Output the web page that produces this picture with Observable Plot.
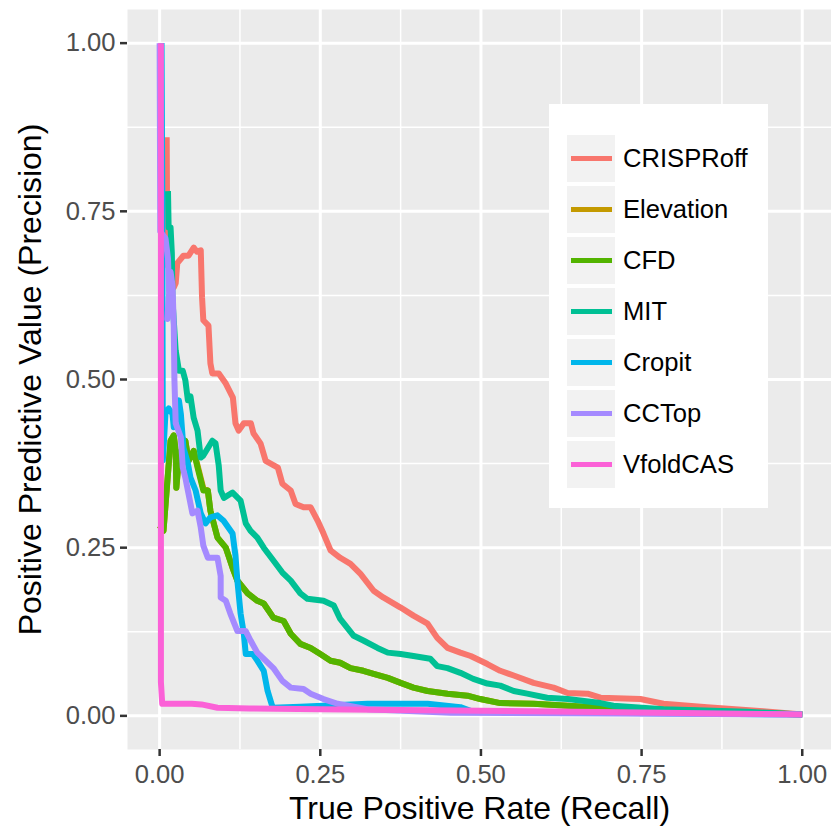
<!DOCTYPE html>
<html>
<head>
<meta charset="utf-8">
<script src="https://cdn.jsdelivr.net/npm/d3@7"></script>
<script src="https://cdn.jsdelivr.net/npm/@observablehq/plot@0.6"></script>
<style>
  html, body { margin: 0; padding: 0; background: white; }
  #wrap { position: relative; width: 831px; height: 828px; font-family: "Liberation Sans", Arial, sans-serif; }
  #legend { position: absolute; left: 549px; top: 104px; width: 219px; height: 404px; background: white; }
  .key { position: absolute; left: 18px; width: 48px; height: 47px; background: #F2F2F2; }
  .key span { position: absolute; left: 4px; width: 41px; height: 5.5px; top: 20.75px; }
  .lab { position: absolute; left: 74px; font-size: 25.6px; line-height: 47px; height: 47px; color: black; white-space: nowrap; }
</style>
</head>
<body>
<div id="wrap"></div>
<script>
// ---- data ----
const methods = ["CRISPRoff", "Elevation", "CFD", "MIT", "Cropit", "CCTop", "VfoldCAS"];
const methodColors = ["#F8766D", "#C49A00", "#53B400", "#00C094", "#00B6EB", "#A58AFF", "#FB61D7"];

const xTicks = [0, 0.25, 0.5, 0.75, 1];
const yTicks = [0, 0.25, 0.5, 0.75, 1];
const xMinor = [0.125, 0.375, 0.625, 0.875];
const yMinor = [0.125, 0.375, 0.625, 0.875];
const xTitle = "True Positive Rate (Recall)";
const yTitle = "Positive Predictive Value (Precision)";

// [recall, precision]
const crisproff = [[0.011,0.86],[0.012,0.67],[0.022,0.67],[0.022,0.637],[0.025,0.643],[0.0275,0.673],[0.037,0.684],[0.045,0.684],[0.053,0.696],[0.058,0.69],[0.064,0.692],[0.066,0.622],[0.068,0.588],[0.076,0.58],[0.079,0.524],[0.082,0.509],[0.092,0.509],[0.103,0.494],[0.114,0.473],[0.118,0.435],[0.123,0.424],[0.131,0.435],[0.142,0.435],[0.146,0.42],[0.157,0.405],[0.165,0.379],[0.184,0.369],[0.191,0.345],[0.204,0.335],[0.2115,0.315],[0.224,0.31],[0.235,0.31],[0.246,0.29],[0.255,0.271],[0.266,0.246],[0.281,0.235],[0.297,0.226],[0.3126,0.211],[0.333,0.186],[0.348,0.176],[0.375,0.161],[0.395,0.149],[0.417,0.137],[0.432,0.116],[0.448,0.101],[0.468,0.094],[0.484,0.089],[0.51,0.077],[0.53,0.067],[0.551,0.06],[0.582,0.049],[0.613,0.042],[0.635,0.034],[0.666,0.033],[0.686,0.027],[0.748,0.025],[0.784,0.018],[0.852,0.013],[0.939,0.007],[1.0,0.002]];
const elevation = [[0.0,0.283],[0.006,0.275],[0.017,0.409],[0.022,0.417],[0.025,0.394],[0.026,0.339],[0.030,0.384],[0.040,0.409],[0.045,0.379],[0.053,0.394],[0.059,0.372],[0.068,0.338],[0.075,0.335],[0.079,0.305],[0.090,0.265],[0.103,0.25],[0.1135,0.22],[0.121,0.201],[0.137,0.182],[0.152,0.171],[0.162,0.167],[0.177,0.146],[0.193,0.141],[0.204,0.122],[0.219,0.107],[0.235,0.101],[0.25,0.092],[0.266,0.082],[0.281,0.079],[0.297,0.071],[0.317,0.067],[0.333,0.0625],[0.355,0.0565],[0.375,0.049],[0.395,0.042],[0.417,0.037],[0.448,0.033],[0.479,0.03],[0.499,0.025],[0.53,0.019],[0.582,0.018],[0.635,0.015],[0.686,0.012],[0.784,0.009],[1.0,0.002]];
const cfd = [[0.0,0.283],[0.006,0.275],[0.017,0.409],[0.022,0.417],[0.025,0.394],[0.026,0.339],[0.030,0.384],[0.040,0.409],[0.045,0.379],[0.053,0.394],[0.059,0.369],[0.068,0.335],[0.075,0.335],[0.079,0.305],[0.090,0.265],[0.103,0.25],[0.1135,0.22],[0.121,0.201],[0.137,0.182],[0.152,0.171],[0.162,0.167],[0.177,0.146],[0.193,0.141],[0.204,0.122],[0.219,0.107],[0.235,0.101],[0.25,0.092],[0.266,0.082],[0.281,0.079],[0.297,0.071],[0.317,0.067],[0.333,0.0625],[0.355,0.0565],[0.375,0.049],[0.395,0.042],[0.417,0.037],[0.448,0.033],[0.479,0.03],[0.499,0.025],[0.53,0.019],[0.582,0.018],[0.635,0.015],[0.686,0.012],[0.784,0.009],[1.0,0.002]];
const mit = [[0.013,0.78],[0.014,0.726],[0.017,0.726],[0.019,0.688],[0.020,0.618],[0.025,0.543],[0.030,0.513],[0.036,0.513],[0.040,0.499],[0.044,0.469],[0.048,0.475],[0.053,0.443],[0.059,0.424],[0.064,0.384],[0.068,0.387],[0.082,0.409],[0.087,0.405],[0.092,0.372],[0.095,0.335],[0.100,0.324],[0.1135,0.332],[0.126,0.32],[0.134,0.286],[0.1415,0.275],[0.152,0.265],[0.162,0.25],[0.177,0.231],[0.191,0.213],[0.204,0.201],[0.219,0.182],[0.230,0.174],[0.255,0.171],[0.271,0.164],[0.281,0.144],[0.302,0.119],[0.317,0.112],[0.339,0.101],[0.355,0.094],[0.375,0.092],[0.395,0.089],[0.421,0.085],[0.432,0.074],[0.448,0.071],[0.468,0.064],[0.488,0.055],[0.51,0.048],[0.53,0.045],[0.551,0.037],[0.572,0.033],[0.603,0.027],[0.635,0.025],[0.686,0.019],[0.706,0.015],[0.784,0.010],[0.914,0.006],[1.0,0.002]];
const cropit = [[0.003,1.0],[0.004,0.80],[0.005,0.38],[0.008,0.43],[0.009,0.449],[0.014,0.457],[0.020,0.449],[0.022,0.429],[0.025,0.439],[0.030,0.469],[0.033,0.449],[0.037,0.399],[0.044,0.375],[0.048,0.354],[0.056,0.335],[0.064,0.301],[0.0715,0.286],[0.079,0.295],[0.090,0.298],[0.0995,0.29],[0.1135,0.271],[0.118,0.238],[0.121,0.201],[0.126,0.152],[0.131,0.122],[0.134,0.092],[0.145,0.092],[0.152,0.082],[0.162,0.067],[0.168,0.037],[0.176,0.012],[0.219,0.0134],[0.3235,0.018],[0.417,0.018],[0.468,0.013],[0.488,0.006],[0.686,0.0045],[1.0,0.002]];
const cctop = [[0.0,1.0],[0.001,0.72],[0.009,0.71],[0.013,0.68],[0.015,0.62],[0.012,0.59],[0.017,0.66],[0.020,0.64],[0.022,0.58],[0.023,0.50],[0.025,0.435],[0.033,0.414],[0.036,0.369],[0.040,0.354],[0.045,0.33],[0.051,0.301],[0.059,0.305],[0.064,0.28],[0.068,0.253],[0.075,0.235],[0.090,0.235],[0.095,0.208],[0.095,0.176],[0.103,0.171],[0.110,0.152],[0.121,0.126],[0.134,0.126],[0.1415,0.112],[0.152,0.094],[0.165,0.082],[0.177,0.071],[0.191,0.052],[0.204,0.042],[0.224,0.04],[0.235,0.033],[0.255,0.025],[0.277,0.018],[0.3235,0.010],[0.453,0.0045],[1.0,0.002]];
const vfoldcas = [[0.002,1.0],[0.002,0.05],[0.004,0.018],[0.013,0.018],[0.05,0.018],[0.065,0.017],[0.09,0.012],[0.14,0.011],[0.25,0.010],[0.5,0.0075],[0.75,0.005],[1.0,0.002]];

const seriesData = [crisproff, elevation, cfd, mit, cropit, cctop, vfoldcas];

// ---- build table ----
const rows = [];
seriesData.forEach((pts, i) => {
  pts.forEach(([r, p]) => rows.push({method: methods[i], recall: r, precision: p}));
});

const chart = Plot.plot({
  width: 831,
  height: 828,
  marginLeft: 127,
  marginRight: 0,
  marginTop: 9,
  marginBottom: 79,
  style: {fontFamily: "'Liberation Sans', Arial, sans-serif", background: "white", overflow: "visible"},
  x: {domain: [-0.05, 1.0455]},
  y: {domain: [-0.05, 1.05]},
  color: {domain: methods, range: methodColors},
  marks: [
    Plot.frame({fill: "#EBEBEB", stroke: "none"}),
    Plot.ruleX(xMinor, {stroke: "white", strokeWidth: 1.5}),
    Plot.ruleY(yMinor, {stroke: "white", strokeWidth: 1.5}),
    Plot.ruleX(xTicks, {stroke: "white", strokeWidth: 3}),
    Plot.ruleY(yTicks, {stroke: "white", strokeWidth: 3}),
    Plot.line(rows, {x: "recall", y: "precision", z: "method", stroke: "method", strokeWidth: 6, strokeLinejoin: "round", strokeLinecap: "butt"}),
    Plot.axisX(xTicks, {anchor: "bottom", tickSize: 7, tickPadding: 8, stroke: "#333333", strokeWidth: 2.5, fill: "#4D4D4D", fontSize: 25.6, tickFormat: d3.format(".2f"), label: null}),
    Plot.axisY(yTicks, {anchor: "left", tickSize: 7, tickPadding: 5, stroke: "#333333", strokeWidth: 2.5, fill: "#4D4D4D", fontSize: 25.6, tickFormat: d3.format(".2f"), label: null}),
    Plot.text([xTitle], {frameAnchor: "bottom", dy: 59, fontSize: 32, fill: "black", textAnchor: "middle", lineAnchor: "middle", text: d => d}),
    Plot.text([yTitle], {frameAnchor: "left", dx: -97, rotate: -90, fontSize: 32, fill: "black", textAnchor: "middle", lineAnchor: "middle", text: d => d})
  ]
});

const wrap = document.getElementById("wrap");
wrap.appendChild(chart);

// legend (ggplot-style key boxes)
const legend = document.createElement("div");
legend.id = "legend";
methods.forEach((m, i) => {
  const key = document.createElement("div");
  key.className = "key";
  key.style.top = (31 + i * 51) + "px";
  const line = document.createElement("span");
  line.style.background = methodColors[i];
  key.appendChild(line);
  legend.appendChild(key);
  const lab = document.createElement("div");
  lab.className = "lab";
  lab.style.top = (31 + i * 51) + "px";
  lab.textContent = m;
  legend.appendChild(lab);
});
wrap.appendChild(legend);
</script>
</body>
</html>
